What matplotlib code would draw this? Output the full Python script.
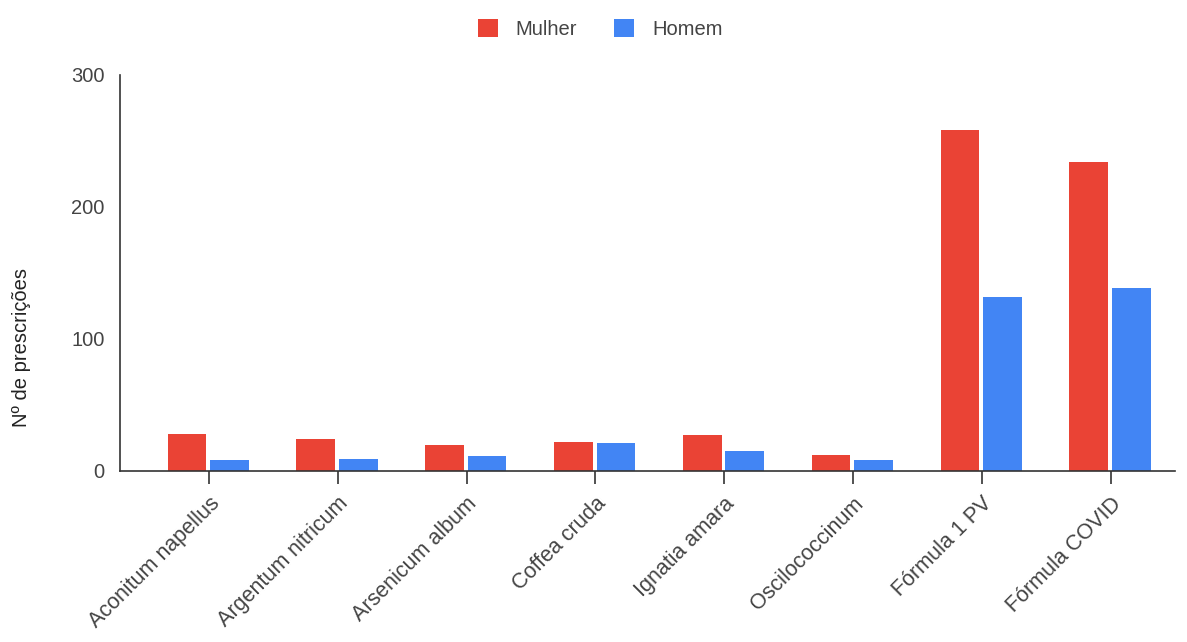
import matplotlib.pyplot as plt
import numpy as np

plt.rcParams['font.family'] = ['Liberation Sans', 'DejaVu Sans']

categories = ['Aconitum napellus', 'Argentum nitricum', 'Arsenicum album',
              'Coffea cruda', 'Ignatia amara', 'Oscilococcinum',
              'Fórmula 1 PV', 'Fórmula COVID']
mulher = [28, 24, 20, 22, 27, 12, 258, 234]
homem = [8, 9, 11, 21, 15, 8, 132, 139]

W, H = 1187, 642
fig = plt.figure(figsize=(W / 100, H / 100), dpi=100)
ax = fig.add_axes([120 / W, 1 - 471 / H, (1175 - 120) / W, (471 - 75) / H])

x = np.arange(len(categories))
bw = 0.30
ax.bar(x - 0.17, mulher, bw, color='#EA4335', label='Mulher', zorder=3)
ax.bar(x + 0.16, homem, bw, color='#4285F4', label='Homem', zorder=3)

ax.set_xlim(-0.69, 7.5)
ax.set_ylim(0, 300)
ax.set_yticks([0, 100, 200, 300])
ax.set_xticks(x)
ax.set_xticklabels(categories, rotation=45, ha='right', rotation_mode='anchor')
ax.tick_params(axis='x', length=9, width=1.2, color='#333333', labelsize=15.5,
               labelcolor='#444444', pad=7, direction='out')
ax.tick_params(axis='y', length=0, labelsize=14.5, labelcolor='#444444', pad=11)

for s in ['top', 'right']:
    ax.spines[s].set_visible(False)
for s in ['left', 'bottom']:
    ax.spines[s].set_color('#333333')
    ax.spines[s].set_linewidth(1.2)
    ax.spines[s].set_zorder(4)

fig.text(22 / W, 1 - 348 / H, 'Nº de prescrições', rotation=90, va='center',
         ha='center', fontsize=14.5, color='#222222')

fig.legend(loc='center', bbox_to_anchor=(600 / W, 1 - 29 / H), ncol=2,
           frameon=False, fontsize=14.5, handlelength=1.0, handleheight=1.0,
           columnspacing=1.8, handletextpad=0.9, labelcolor='#444444')

fig.savefig('out.png', dpi=100)
